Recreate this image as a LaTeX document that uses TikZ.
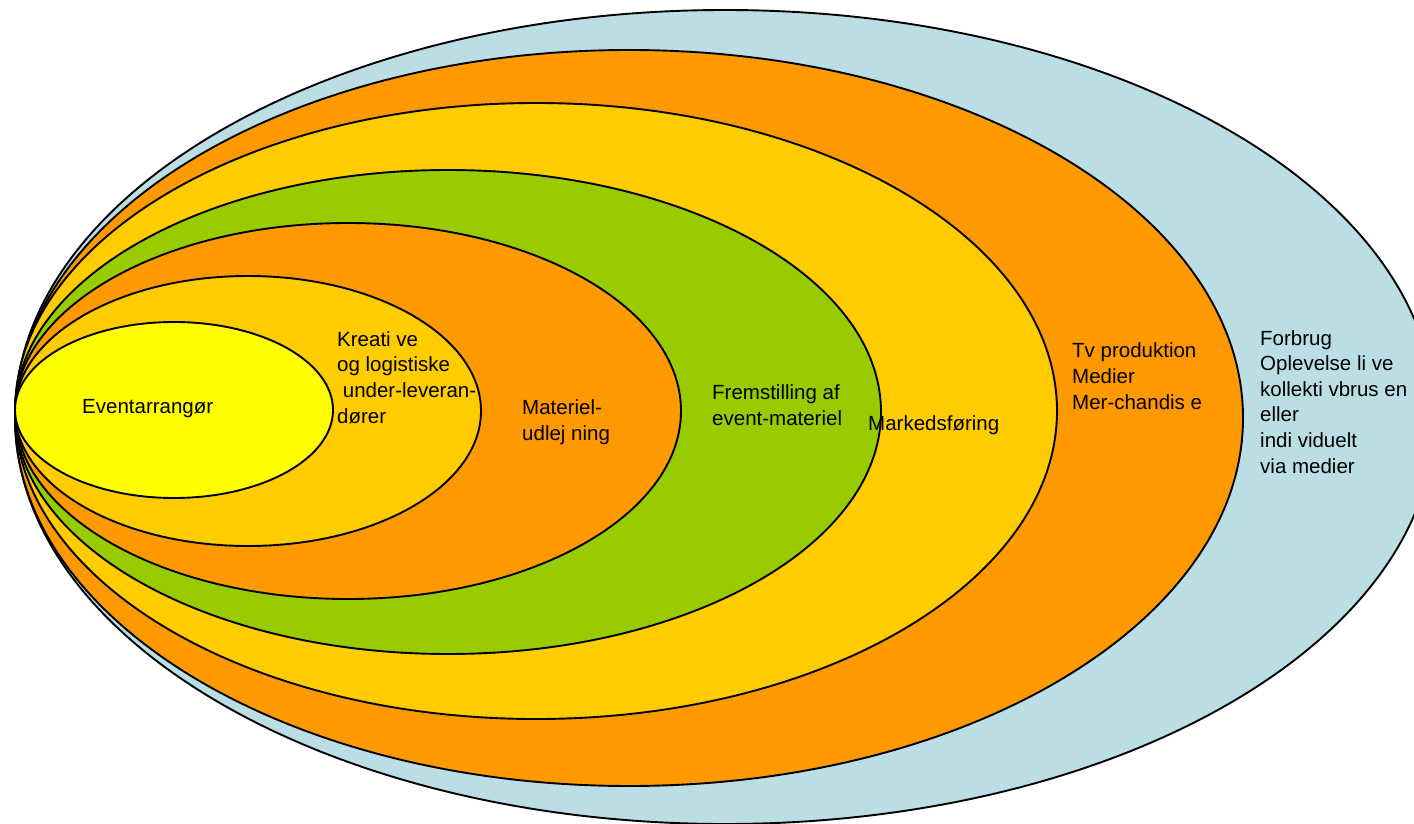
\documentclass[tikz,border=0pt]{standalone}
\usepackage{fontspec}
\setmainfont{Liberation Sans}
\usetikzlibrary{positioning}
\definecolor{ringblue}{RGB}{187,222,228}
\definecolor{ringorange}{RGB}{255,153,0}
\definecolor{ringamber}{RGB}{255,204,0}
\definecolor{ringgreen}{RGB}{153,204,0}
\definecolor{ringyellow}{RGB}{255,255,0}

\begin{document}
\begin{tikzpicture}[
  x=1pt, y=-1pt,
  ring/.style={draw=black, line width=1.9pt},
  lbl/.style={anchor=base west, inner sep=0pt, align=left,
    font=\fontsize{20.5}{25.6}\selectfont}
]
  \clip (0,0) rectangle (1414,824);
  % Rings, outermost first
  \draw[ring, fill=ringblue]   (725,417) ellipse [x radius=710, y radius=407];
  \draw[ring, fill=ringorange] (629,418) ellipse [x radius=614, y radius=368];
  \draw[ring, fill=ringamber]  (536,411) ellipse [x radius=521, y radius=308];
  \draw[ring, fill=ringgreen]  (448,412) ellipse [x radius=433, y radius=242];
  \draw[ring, fill=ringorange] (348,411) ellipse [x radius=333, y radius=188];
  \draw[ring, fill=ringamber]  (248,411) ellipse [x radius=233, y radius=135];
  \draw[ring, fill=ringyellow] (174,410) ellipse [x radius=159, y radius=88];

  % Labels (base = baseline of the last line)
  \node[lbl] (event) at (82,413) {Eventarrangør};
  \node[lbl] (kreative) at (337,423) {Kreati ve\\og logistiske\\~under-leveran-\\dører};
  \node[lbl] (materiel) at (522,440) {Materiel-\\udlej ning};
  \node[lbl] (fremst) at (712,425) {Fremstilling af\\event-materiel};
  \node[lbl] (marked) at (868,430) {Markedsføring};
  \node[lbl] (tv) at (1072,409) {Tv produktion\\Medier\\Mer-chandis e};
  \node[lbl] (forbrug) at (1260,473) {Forbrug\\Oplevelse li ve\\kollekti vbrus en\\eller\\indi viduelt\\via medier};
\end{tikzpicture}
\end{document}
